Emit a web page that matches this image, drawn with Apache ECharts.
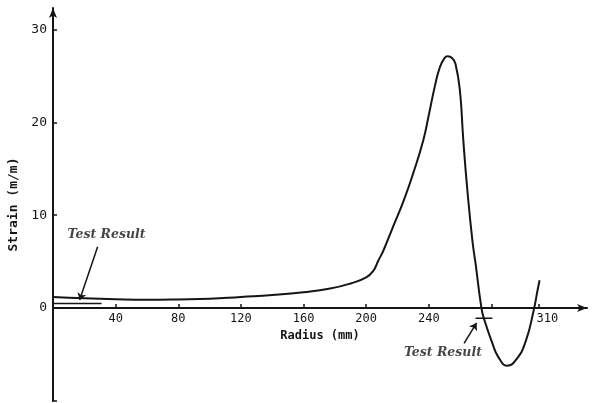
<!DOCTYPE html>
<html>
<head>
<meta charset="utf-8">
<script src="https://cdn.jsdelivr.net/npm/echarts@6/dist/echarts.min.js"></script>
<style>
html, body { margin: 0; padding: 0; background: #fff; }
#main { width: 593px; height: 403px; }
</style>
</head>
<body>
<div id="main"></div>
<script>
// strain curve: radius (mm) / strain
var radius = [0, 20, 40, 60, 80, 100, 120, 140, 160, 177, 190, 200, 204.5, 207.7, 211, 217, 224, 230, 236.5, 240, 244, 247, 250, 252, 255, 257, 259.8, 262, 264.6, 267.8, 270, 273.6, 275.5, 280.6, 284.5, 290, 296, 302, 307, 309.4, 310.7];
var strain = [1.2, 1.05, 0.95, 0.9, 0.93, 1.0, 1.2, 1.4, 1.7, 2.1, 2.65, 3.3, 4.0, 5.1, 6.2, 8.7, 11.6, 14.5, 18.1, 20.8, 24.0, 25.9, 26.9, 27.1, 26.9, 26.3, 23.5, 18.1, 12.7, 7.3, 4.6, 0, -1.3, -3.8, -5.3, -6.2, -5.5, -3.5, -0.2, 1.9, 3.0];

// measured test results (short bars)
var testLeft = [[0, 0.5], [31, 0.5]];
var testRight = [[269.8, -1.1], [280.6, -1.1]];

var xTicks = [40, 80, 120, 160, 200, 240, 280, 310];
var xLabels = [40, 80, 120, 160, 200, 240, 310];
var yTicks = [-10, 0, 10, 20, 30];
var yLabels = [0, 10, 20, 30];

var curve = [];
for (var i = 0; i < radius.length; i++) {
    curve.push([radius[i], strain[i]]);
}

var ink = '#151515';
var chart = echarts.init(document.getElementById('main'));
var option = {
    backgroundColor: '#fff',
    animation: false,
    grid: {
        left: 53,
        right: 6,
        top: 8,
        bottom: 2,
        containLabel: false,
        outerBoundsMode: 'none'
    },
    xAxis: {
        type: 'value',
        min: 0,
        max: 341,
        // lift the axis from the grid bottom (-10) up to strain 0
        offset: -93,
        name: 'Radius (mm)',
        nameLocation: 'middle',
        nameGap: 22,
        nameTextStyle: { fontFamily: 'DejaVu Sans Mono', fontSize: 12, color: ink, fontWeight: 'bold' },
        splitLine: { show: false },
        axisLine: {
            onZero: false,
            symbol: ['none', 'arrow'],
            symbolSize: [6, 10],
            lineStyle: { color: ink, width: 2 }
        },
        axisTick: { inside: true, length: 4, customValues: xTicks, lineStyle: { color: ink, width: 1.5 } },
        axisLabel: {
            customValues: xLabels,
            margin: 5,
            fontFamily: 'DejaVu Sans Mono',
            fontSize: 12,
            color: ink,
            formatter: function (v) {
                return v === 310 ? '{r|310}' : String(v);
            },
            rich: {
                r: { padding: [0, 0, 0, 18], fontFamily: 'DejaVu Sans Mono', fontSize: 12, color: ink }
            }
        }
    },
    yAxis: {
        type: 'value',
        min: -10,
        max: 32.3,
        name: 'Strain (m/m)',
        nameLocation: 'middle',
        nameGap: 33,
        nameTextStyle: { fontFamily: 'DejaVu Sans Mono', fontSize: 13, color: ink, fontWeight: 'bold' },
        splitLine: { show: false },
        axisLine: {
            onZero: false,
            symbol: ['none', 'arrow'],
            symbolSize: [6, 10],
            lineStyle: { color: ink, width: 2 }
        },
        axisTick: { inside: true, length: 4, customValues: yTicks, lineStyle: { color: ink, width: 1.5 } },
        axisLabel: {
            customValues: yLabels,
            margin: 6,
            fontFamily: 'DejaVu Sans Mono',
            fontSize: 13,
            color: ink
        }
    },
    series: [
        {
            name: 'Strain',
            type: 'line',
            data: curve,
            smooth: 0.5,
            showSymbol: false,
            lineStyle: { color: ink, width: 2 }
        },
        {
            name: 'Test left',
            type: 'line',
            data: testLeft,
            showSymbol: false,
            lineStyle: { color: ink, width: 1.5 },
            markLine: {
                silent: true,
                symbol: ['none', 'arrow'],
                symbolSize: 7,
                label: { show: false },
                lineStyle: { color: ink, width: 1.5, type: 'solid' },
                data: [
                    [{ coord: [28.5, 6.6] }, { coord: [17, 0.86] }]
                ]
            }
        },
        {
            name: 'Test right',
            type: 'line',
            data: testRight,
            showSymbol: false,
            lineStyle: { color: ink, width: 1.5 },
            markLine: {
                silent: true,
                symbol: ['none', 'arrow'],
                symbolSize: 7,
                label: { show: false },
                lineStyle: { color: ink, width: 1.5, type: 'solid' },
                data: [
                    [{ coord: [262.5, -3.8] }, { coord: [270.5, -1.6] }]
                ]
            }
        },
        {
            name: 'labels',
            type: 'scatter',
            symbolSize: 0,
            data: [[34.2, 7.85], [249, -4.85]],
            label: {
                show: true,
                position: 'inside',
                formatter: 'Test Result',
                fontFamily: 'DejaVu Serif',
                fontStyle: 'italic',
                fontWeight: 'bold',
                fontSize: 12.5,
                color: ink
            }
        }
    ]
};
chart.setOption(option);
</script>
</body>
</html>
